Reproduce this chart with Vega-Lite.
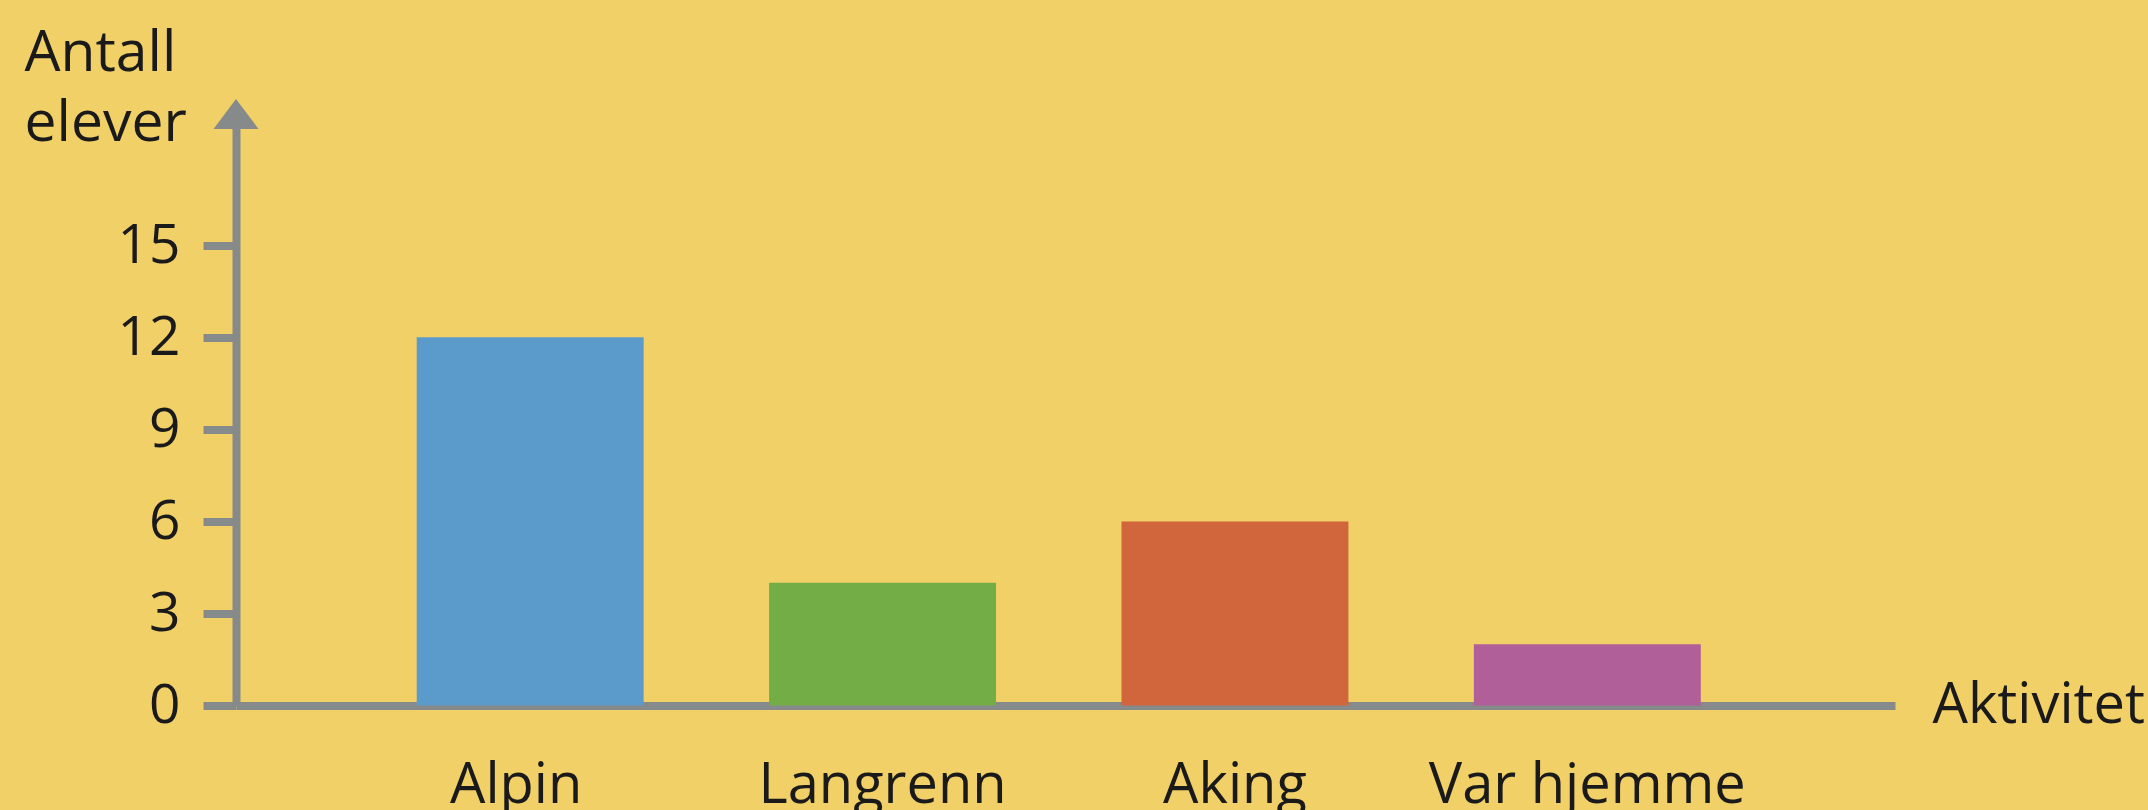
{
  "$schema": "https://vega.github.io/schema/vega-lite/v6.json",
  "width": 1659,
  "height": 583,
  "autosize": "none",
  "padding": {"left": 236, "top": 122.5, "right": 253, "bottom": 104.5},
  "background": "#f2d068",
  "config": {"view": {"stroke": null}, "font": "Open Sans"},
  "layer": [
    {
      "data": {
        "values": [
          {"aktivitet": "Alpin", "antall": 12},
          {"aktivitet": "Langrenn", "antall": 4},
          {"aktivitet": "Aking", "antall": 6},
          {"aktivitet": "Var hjemme", "antall": 2}
        ]
      },
      "mark": {"type": "bar"},
      "encoding": {
        "x": {
          "field": "aktivitet",
          "type": "nominal",
          "sort": null,
          "scale": {"paddingInner": 0.356, "paddingOuter": 0.532, "align": 0.482},
          "axis": {
            "title": "Aktivitet",
            "titleX": 1696,
            "titleY": 16.5,
            "titleAlign": "left",
            "titleAnchor": null,
            "titleBaseline": "alphabetic",
            "titleFontSize": 56,
            "titleFontWeight": "normal",
            "titleColor": "#1a1a1a",
            "titleFont": "Open Sans",
            "domain": true,
            "domainColor": "#878a8a",
            "domainWidth": 8,
            "ticks": false,
            "tickSize": 0,
            "grid": false,
            "labelAngle": 0,
            "labelFontSize": 56,
            "labelFont": "Open Sans",
            "labelColor": "#1a1a1a",
            "labelBaseline": "alphabetic",
            "labelPadding": 97,
            "labelLimit": 600,
            "labelOverlap": false,
            "labelOffset": {"expr": "datum.value === 'Alpin' ? -14 : 0"}
          }
        },
        "y": {
          "field": "antall",
          "type": "quantitative",
          "scale": {"domain": [0, 19], "nice": false},
          "axis": {
            "title": ["Antall", "elever"],
            "titleAngle": 0,
            "titleX": -212,
            "titleY": -52.5,
            "titleAlign": "left",
            "titleAnchor": null,
            "titleBaseline": "alphabetic",
            "titleLineHeight": 70,
            "titleFontSize": 57,
            "titleFontWeight": "normal",
            "titleColor": "#1a1a1a",
            "titleFont": "Open Sans",
            "values": [0, 3, 6, 9, 12, 15],
            "domain": true,
            "domainColor": "#878a8a",
            "domainWidth": 8,
            "ticks": true,
            "tickColor": "#878a8a",
            "tickWidth": 8,
            "tickSize": 33,
            "grid": false,
            "labelFontSize": 55,
            "labelFont": "Open Sans",
            "labelColor": "#1a1a1a",
            "labelPadding": 23,
            "labelBaseline": "middle"
          }
        },
        "color": {
          "field": "aktivitet",
          "type": "nominal",
          "scale": {
            "domain": ["Alpin", "Langrenn", "Aking", "Var hjemme"],
            "range": ["#5b9bcb", "#72ad46", "#d1653b", "#b15f98"]
          },
          "legend": null
        }
      }
    },
    {
      "data": {"values": [{}]},
      "mark": {
        "type": "point",
        "shape": "M0,-0.667L-1,0.667L1,0.667Z",
        "filled": true,
        "size": 2025,
        "color": "#878a8a",
        "opacity": 1
      },
      "encoding": {
        "x": {"datum": 0, "type": "quantitative", "scale": {"domain": [0, 1]}, "axis": null},
        "y": {"datum": 19.28, "type": "quantitative", "scale": {"domain": [0, 19], "nice": false}}
      }
    }
  ],
  "resolve": {"scale": {"x": "independent", "color": "independent"}}
}
